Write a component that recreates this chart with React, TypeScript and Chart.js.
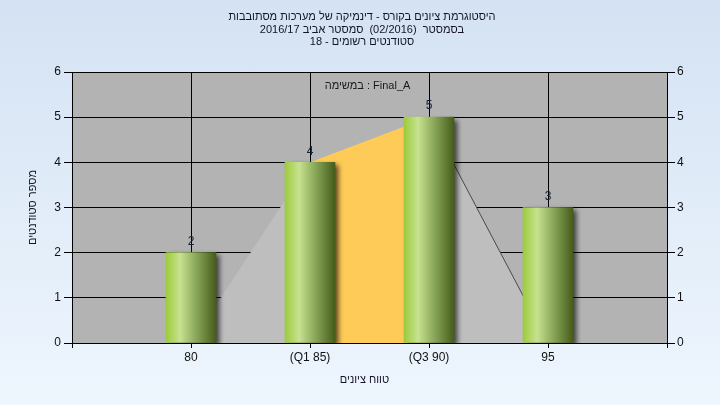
import React, { useEffect, useRef } from 'react';
import { Chart, registerables } from 'chart.js';

Chart.register(...registerables);

const categories = ['', '80', '(Q1 85)', '(Q3 90)', '95', ''];
const counts = [null, 2, 4, 5, 3, null];
const lowerTail = [null, 0, 4, null, null, null];
const interQuartile = [null, null, 4, 5, null, null];
const upperTail = [null, null, null, 5, 0, null];
const yMin = 0;
const yMax = 6;

const titleLines = [
  'היסטוגרמת ציונים בקורס - דינמיקה של מערכות מסתובבות',
  'בסמסטר  (02/2016)  סמסטר אביב 2016/17',
  'סטודנטים רשומים - 18',
];
const subtitle = 'במשימה : Final_A';
const xTitle = 'טווח ציונים';
const yTitle = 'מספר סטודנטים';

const FONT = '"Liberation Sans", Arial, sans-serif';

const bgPlugin = {
  id: 'plotBg',
  beforeDraw(chart: any) {
    const { ctx, chartArea } = chart;
    ctx.save();
    ctx.fillStyle = '#b3b3b3';
    ctx.fillRect(chartArea.left, chartArea.top, chartArea.right - chartArea.left, chartArea.bottom - chartArea.top);
    ctx.restore();
  },
};

const shadowPlugin = {
  id: 'barShadow',
  beforeDatasetDraw(chart: any, args: any) {
    if (args.index !== 0) return;
    const ctx = chart.ctx;
    ctx.save();
    ctx.shadowColor = 'rgba(0,0,0,0.65)';
    ctx.shadowBlur = 5;
    ctx.shadowOffsetX = 4;
    ctx.shadowOffsetY = 3;
  },
  afterDatasetDraw(chart: any, args: any) {
    if (args.index !== 0) return;
    chart.ctx.restore();
  },
};

const textPlugin = {
  id: 'texts',
  afterDraw(chart: any) {
    const { ctx, chartArea } = chart;
    ctx.save();
    ctx.font = `11px ${FONT}`;
    ctx.textAlign = 'center';
    ctx.textBaseline = 'middle';
    ctx.fillStyle = '#141428';
    ctx.direction = 'rtl';
    titleLines.forEach((t, i) => ctx.fillText(t, 362, 17 + i * 12.5));
    const cx = (chartArea.left + chartArea.right) / 2;
    ctx.fillText(xTitle, cx - 5, chartArea.bottom + 37);
    ctx.save();
    ctx.translate(33, (chartArea.top + chartArea.bottom) / 2);
    ctx.rotate(-Math.PI / 2);
    ctx.fillText(yTitle, 0, 0);
    ctx.restore();
    ctx.direction = 'ltr';
    ctx.fillStyle = '#1a1a1a';
    ctx.fillText(subtitle, cx - 2, chartArea.top + 14);
    ctx.font = `12px ${FONT}`;
    const meta = chart.getDatasetMeta(0);
    ctx.fillStyle = '#102038';
    meta.data.forEach((el: any, i: number) => {
      const v = counts[i];
      if (v == null) return;
      ctx.fillText(String(v), el.x, el.y - 11);
    });
    ctx.restore();
  },
};

export default function App() {
  const ref = useRef<HTMLCanvasElement | null>(null);
  useEffect(() => {
    if (!ref.current) return;
    const barFill = (c: any) => {
      const chart = c.chart;
      const xs = chart.scales && chart.scales.x;
      if (!xs || c.dataIndex == null) return '#9ccb3b';
      const px = xs.getPixelForValue(c.dataIndex);
      if (!isFinite(px)) return '#9ccb3b';
      const g = chart.ctx.createLinearGradient(px - 25, 0, px + 25, 0);
      g.addColorStop(0, '#9ccb3b');
      g.addColorStop(0.28, '#c7e290');
      g.addColorStop(0.6, '#8aa85a');
      g.addColorStop(1, '#465c1a');
      return g;
    };
    const chart = new Chart(ref.current, {
      type: 'bar',
      data: {
        labels: categories,
        datasets: [
          {
            type: 'bar',
            data: counts as any,
            backgroundColor: barFill as any,
            borderWidth: 0,
            barThickness: 50,
            order: 0,
          } as any,
          {
            type: 'line',
            data: lowerTail as any,
            fill: 'origin',
            backgroundColor: '#bebebe',
            borderColor: 'rgba(0,0,0,0)',
            borderWidth: 0,
            pointRadius: 0,
            tension: 0,
            order: 1,
          } as any,
          {
            type: 'line',
            data: interQuartile as any,
            fill: 'origin',
            backgroundColor: '#fecb58',
            borderColor: 'rgba(0,0,0,0)',
            borderWidth: 0,
            pointRadius: 0,
            tension: 0,
            order: 1,
          } as any,
          {
            type: 'line',
            data: upperTail as any,
            fill: 'origin',
            backgroundColor: '#bebebe',
            borderColor: '#4a4a4a',
            borderWidth: 1,
            pointRadius: 0,
            tension: 0,
            order: 1,
          } as any,
        ],
      },
      options: {
        responsive: false,
        animation: false,
        devicePixelRatio: 1,
        layout: { padding: { top: 72, left: 0, right: 0, bottom: 0 } },
        plugins: {
          legend: { display: false },
          tooltip: { enabled: false },
          title: { display: false },
        },
        scales: {
          x: {
            type: 'category',
            offset: false,
            afterFit: (s: any) => { s.height = 62; },
            grid: { color: '#000', lineWidth: 1, tickLength: 5, offset: false },
            border: { color: '#000' },
            ticks: { color: '#111', font: { size: 12, family: FONT }, padding: 2, autoSkip: false, maxRotation: 0 },
          },
          y: {
            position: 'left',
            min: yMin,
            max: yMax,
            afterFit: (s: any) => { s.width = 72; },
            grid: { color: '#000', lineWidth: 1, tickLength: 8 },
            border: { color: '#000' },
            ticks: { stepSize: 1, color: '#111', font: { size: 12, family: FONT }, padding: 3 },
          },
          y2: {
            position: 'right',
            min: yMin,
            max: yMax,
            afterFit: (s: any) => { s.width = 53; },
            grid: { drawOnChartArea: false, color: '#000', lineWidth: 1, tickLength: 8 },
            border: { color: '#000' },
            ticks: { stepSize: 1, color: '#111', font: { size: 12, family: FONT }, padding: 2 },
          },
        },
      } as any,
      plugins: [bgPlugin, shadowPlugin, textPlugin],
    });
    return () => chart.destroy();
  }, []);
  return (
    <div
      style={{
        position: 'fixed',
        left: 0,
        top: 0,
        width: 720,
        height: 405,
        background: 'linear-gradient(#d4e2f3, #eef6fe)',
      }}
    >
      <canvas ref={ref} width={720} height={405} style={{ display: 'block' }} />
    </div>
  );
}
